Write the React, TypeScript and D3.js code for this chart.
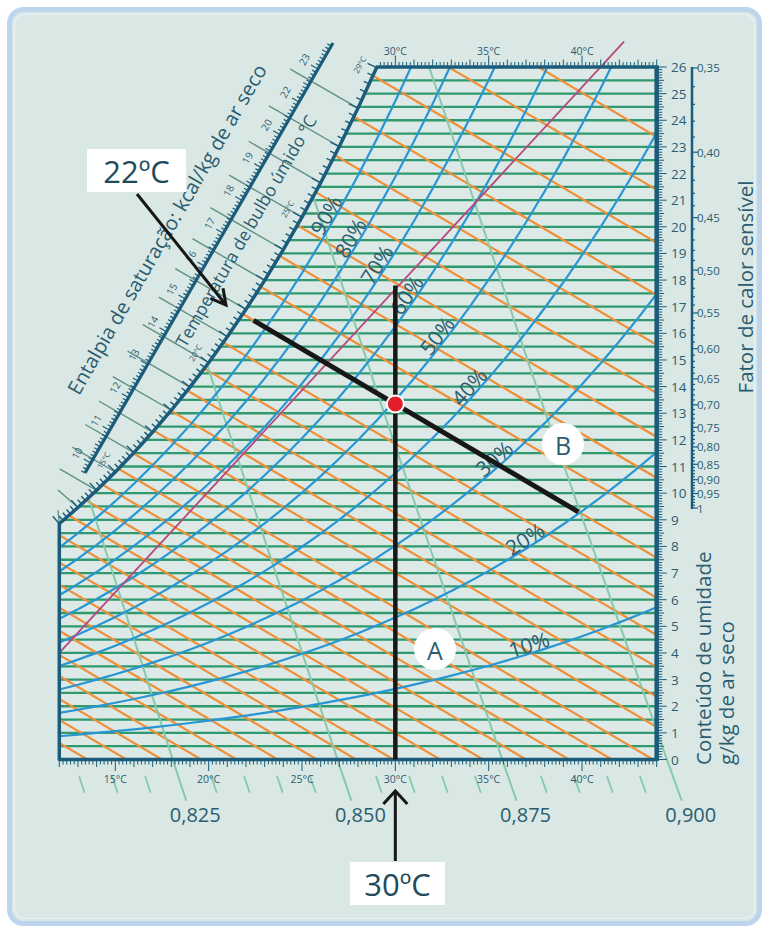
import React from "react";
import * as d3 from "d3";

// ---------------- data ----------------
const tempsC = [12, 13, 14, 15, 16, 17, 18, 19, 20, 21, 22, 23, 24, 25, 26, 27, 28, 29, 30, 31, 32, 33, 34, 35, 36, 37, 38, 39, 40, 41, 42, 43, 44];
const satPressureKPa = [1.4028, 1.4981, 1.599, 1.7058, 1.8188, 1.9384, 2.0647, 2.1983, 2.3392, 2.4882, 2.6453, 2.8111, 2.9858, 3.1699, 3.3639, 3.5681, 3.7831, 4.0092, 4.247, 4.4969, 4.7596, 5.0354, 5.3251, 5.629, 5.9479, 6.2823, 6.6328, 7.0002, 7.3849, 7.7878, 8.2096, 8.6508, 9.1124];
const relHumidity = [0.9, 0.8, 0.7, 0.6, 0.5, 0.4, 0.3, 0.2, 0.1];
const rhLabels = ["90%", "80%", "70%", "60%", "50%", "40%", "30%", "20%", "10%"];
const rhLabelTemps = [26.7, 28.0, 29.4, 31.0, 32.6, 34.3, 35.6, 37.2, 37.3];
const humidityTicks = [0, 1, 2, 3, 4, 5, 6, 7, 8, 9, 10, 11, 12, 13, 14, 15, 16, 17, 18, 19, 20, 21, 22, 23, 24, 25, 26];
const bottomTempTicks = [15, 20, 25, 30, 35, 40];
const topTempTicks = [30, 35, 40];
const specificVolumes = [0.825, 0.85, 0.875, 0.9];
const specificVolumeLabels = ["0,825", "0,850", "0,875", "0,900"];
const specificVolumeMinor = [0.81, 0.815, 0.82, 0.83, 0.835, 0.84, 0.845, 0.855, 0.86, 0.865, 0.87, 0.88, 0.885, 0.89, 0.895];
const wetBulbBottomT = [13.5, 15.6, 17.5, 19.6, 21.5, 23.7, 25.8, 27.9, 29.9, 32.4, 34.7, 37.0, 39.3, 41.6, 43.8];
const wetBulbRightW = [1.22, 2.35, 3.47, 4.67, 6.07, 7.57, 8.99, 10.57, 12.11, 13.76, 15.57, 17.44, 19.4, 21.39, 23.38];
const shfValues = [0.35, 0.4, 0.45, 0.5, 0.55, 0.6, 0.65, 0.7, 0.75, 0.8, 0.85, 0.9, 0.95, 1];
const shfLabels = ["0,35", "0,40", "0,45", "0,50", "0,55", "0,60", "0,65", "0,70", "0,75", "0,80", "0,85", "0,90", "0,95", "1"];
const enthalpyLabels = ["10", "11", "12", "13", "14", "15", "16", "17", "18", "19", "20", "22", "23"];
const wetBulbScaleTemps = [15, 20, 25, 28.9];
const wetBulbScaleLabels = ["15°C", "20°C", "25°C", "29°C"];
const wetBulbGuideTemps = [12, 13, 14, 15, 16, 17, 18, 19, 20, 21, 22, 23, 24, 25, 26, 27, 28];
const magentaLine = [[12, 4.0], [42.25, 26.95]];
const statePoint = [30, 13.35];
const wetBulb22Line = [[22.4, 16.49], [39.8, 9.3]];
const dryBulb30Line = [[30, 0], [30, 17.8]];
const enthalpyScaleEnds = [[13.38, 10.76], [26.66, 26.9]];

// ---------------- constants ----------------
const PRESSURE = 100; // kPa used for humidity curves
const P_ATM = 101.325;
const WB_SLOPE = 0.413; // g/kg per °C
const FONT = "'Open Sans', 'Noto Sans', sans-serif";
const C = {
  bg: "#d9e8e5",
  frame: "#bcd4ec",
  green: "#2f9a6d",
  orange: "#f08f36",
  blue: "#2896d3",
  vol: "#86c9ab",
  magenta: "#b8477f",
  border: "#1b5c7b",
  text: "#2b5c70",
  guide: "#5f9082",
  black: "#171717",
  red: "#e21f29",
};

export default function App() {
  const x = d3.scaleLinear().domain([12, 44]).range([59.3, 656.7]);
  const y = d3.scaleLinear().domain([0, 26]).range([759.5, 67]);
  const psAt = d3.scaleLinear().domain(tempsC).range(satPressureKPa);
  const tAtPs = d3.scaleLinear().domain(satPressureKPa).range(tempsC);
  const wFromPv = (pv: number) => (622 * pv) / (PRESSURE - pv);
  const wSat = (t: number) => wFromPv(psAt(t));
  const wRh = (rh: number, t: number) => wFromPv(rh * psAt(t));
  const tTop = tAtPs((26 * PRESSURE) / (622 + 26));
  const line = d3.line();
  const P = (t: number, w: number): [number, number] => [x(t), y(w)];

  // saturation polyline
  const satPts: [number, number][] = tempsC.filter((t) => t < tTop).map((t) => P(t, wSat(t)));
  satPts.push(P(tTop, 26));
  const regionPts: [number, number][] = [P(12, 0), P(44, 0), P(44, 26), ...satPts.slice().reverse()];
  const regionPath = line(regionPts) + "Z";

  // specific volume lines
  const tAtV = (v: number, w: number) => (v * P_ATM) / 0.287042 / (1 + (1.6078 * w) / 1000) - 273.15;
  const volLine = (v: number, w0: number, w1: number) =>
    line([P(tAtV(v, w0), w0), P(tAtV(v, (w0 + w1) / 2), (w0 + w1) / 2), P(tAtV(v, w1), w1)]);

  // wet bulb (orange) lines
  const orangeT0 = [...wetBulbBottomT, ...wetBulbRightW.map((w) => 44 + w / WB_SLOPE)];

  // green horizontal lines
  const greenW = d3.range(0.5, 26, 0.5);

  // enthalpy scale geometry
  const S0 = P(enthalpyScaleEnds[0][0], enthalpyScaleEnds[0][1]);
  const S1 = P(enthalpyScaleEnds[1][0], enthalpyScaleEnds[1][1]);
  const sLen = Math.hypot(S1[0] - S0[0], S1[1] - S0[1]);
  const u = [(S1[0] - S0[0]) / sLen, (S1[1] - S0[1]) / sLen];
  const nv = [u[1], -u[0]]; // up-left normal
  const angScale = (Math.atan2(u[1], u[0]) * 180) / Math.PI;
  const along = (s: number, n: number): [number, number] => [S0[0] + s * u[0] + n * nv[0], S0[1] + s * u[1] + n * nv[1]];
  const labelStep = 37.9;
  const sOfH = (i: number) => 13 + labelStep * i;

  // saturation normal
  const satNormal = (t: number) => {
    const a = P(t - 0.05, wSat(t - 0.05));
    const b = P(t + 0.05, wSat(t + 0.05));
    const dx = b[0] - a[0], dy = b[1] - a[1];
    const l = Math.hypot(dx, dy);
    return [dy / l, -dx / l];
  };

  // SHF scale (position follows latent/sensible ratio)
  const shfY = d3.scaleLinear().domain([0, 0.0526, 1.857]).range([508, 493.5, 68]);
  const shfPos = (s: number) => shfY((1 - s) / s);
  const shfX = 692;

  const tempTickArr = d3.range(0, 161).map((k) => 12 + k * 0.2);

  return (
    <svg width={769} height={932} style={{ position: "absolute", left: 0, top: 0 }} fontFamily={FONT}>
      <defs>
        <clipPath id="plot">
          <path d={regionPath} />
        </clipPath>
        <mask id="outside" maskUnits="userSpaceOnUse" x={0} y={0} width={769} height={932}>
          <rect width={769} height={932} fill="white" />
          <path d={regionPath} fill="black" />
        </mask>
      </defs>
      <rect x={0} y={0} width={769} height={932} fill="#ffffff" />
      <rect x={9.5} y={9.5} width={750} height={914} rx={14} fill={C.bg} stroke={C.frame} strokeWidth={5} />
      <rect x={14.5} y={14.5} width={740} height={904} rx={10} fill="none" stroke="#e8f0f8" strokeWidth={1.2} />

      {/* gridded interior */}
      <g clipPath="url(#plot)">
        <path d={regionPath} fill="#dce9e7" />
        {greenW.map((w, i) => (
          <line key={"g" + i} x1={x(12)} x2={x(44)} y1={y(w)} y2={y(w)} stroke={C.green} strokeWidth={2.3} />
        ))}
        {orangeT0.map((t0, i) => (
          <path key={"o" + i} d={line([P(t0 + 1 / WB_SLOPE, -1), P(t0 - 27 / WB_SLOPE, 27)]) || ""} stroke={C.orange} strokeWidth={2.2} fill="none" />
        ))}
        {specificVolumes.map((v, i) => (
          <path key={"v" + i} d={volLine(v, -0.5, 27) || ""} stroke={C.vol} strokeWidth={2} fill="none" />
        ))}
        {relHumidity.map((rh, i) => (
          <path key={"rh" + i} d={line(tempsC.map((t) => P(t, wRh(rh, t)))) || ""} stroke={C.blue} strokeWidth={2.2} fill="none" />
        ))}
      </g>

      {/* specific volume extensions below chart */}
      <g mask="url(#outside)">
        {specificVolumes.map((v, i) => (
          <path key={"ve" + i} d={volLine(v, -1.55, 1.5) || ""} stroke={C.vol} strokeWidth={2} fill="none" />
        ))}
      </g>
      {specificVolumeMinor.map((v, i) => (
        <path key={"vm" + i} d={volLine(v, -0.62, -1.25) || ""} stroke={C.vol} strokeWidth={1.8} fill="none" />
      ))}
      {specificVolumes.map((v, i) => (
        <text key={"vl" + i} x={x(tAtV(v, -1.55)) + 9} y={814} fontSize={20} fill={C.text} textAnchor="middle" dominantBaseline="central">
          {specificVolumeLabels[i]}
        </text>
      ))}

      {/* magenta line */}
      <path d={line(magentaLine.map((d) => P(d[0], d[1]))) || ""} stroke={C.magenta} strokeWidth={1.8} fill="none" />

      {/* RH labels */}
      {relHumidity.map((rh, i) => {
        const t = rhLabelTemps[i];
        const a = P(t, wRh(rh, t));
        const b = P(t + 0.1, wRh(rh, t + 0.1));
        const dx = b[0] - a[0], dy = b[1] - a[1];
        const l = Math.hypot(dx, dy);
        const n = [dy / l, -dx / l];
        const ang = (Math.atan2(dy, dx) * 180) / Math.PI;
        const cx = a[0] + n[0] * 9, cy = a[1] + n[1] * 9;
        return (
          <text key={"rl" + i} transform={`translate(${cx},${cy}) rotate(${ang})`} fontSize={21} fill={C.text} textAnchor="middle" dominantBaseline="central">
            {rhLabels[i]}
          </text>
        );
      })}

      {/* wet-bulb guide lines outside saturation */}
      {wetBulbGuideTemps.map((t, i) => {
        const p = P(t, wSat(t));
        const np = (p[0] - S0[0]) * nv[0] + (p[1] - S0[1]) * nv[1];
        const k = 24 - np;
        const q = [p[0] + k * nv[0], Math.max(p[1] + k * nv[1], 40)];
        return <line key={"gl" + i} x1={p[0]} y1={p[1]} x2={Math.max(q[0], 58)} y2={q[1]} stroke={C.guide} strokeWidth={1.4} />;
      })}

      {/* saturation ticks */}
      {d3.range(0, Math.floor((tTop - 12) / 0.2) + 1).map((k) => {
        const t = 12 + k * 0.2;
        const p = P(t, wSat(t));
        const n = satNormal(t);
        const len = k % 5 === 0 ? 10 : 6;
        return <line key={"st" + k} x1={p[0]} y1={p[1]} x2={p[0] + n[0] * len} y2={p[1] + n[1] * len} stroke={C.border} strokeWidth={1.4} />;
      })}
      {wetBulbScaleTemps.map((t, i) => {
        const p = P(t, wSat(t));
        const n = satNormal(t);
        return (
          <text key={"wl" + i} transform={`translate(${p[0] + n[0] * 17},${p[1] + n[1] * 17}) rotate(${angScale})`} fontSize={8} fill={C.text} textAnchor="middle" dominantBaseline="central">
            {wetBulbScaleLabels[i]}
          </text>
        );
      })}

      {/* enthalpy scale */}
      <line x1={S0[0]} y1={S0[1]} x2={S1[0]} y2={S1[1]} stroke={C.border} strokeWidth={3.2} />
      {d3.range(0, Math.floor(sLen / (labelStep / 10)) + 1).map((k) => {
        const s = k * (labelStep / 10);
        const h = Math.round((s - 13) / (labelStep / 10));
        const len = h % 10 === 0 ? 8 : h % 5 === 0 ? 6 : 4.5;
        const a = along(s, 0), b = along(s, len);
        return <line key={"et" + k} x1={a[0]} y1={a[1]} x2={b[0]} y2={b[1]} stroke={C.border} strokeWidth={1.2} />;
      })}
      {enthalpyLabels.map((lab, i) => {
        const c = along(sOfH(i), 17);
        return (
          <text key={"el" + i} transform={`translate(${c[0]},${c[1]}) rotate(${angScale})`} fontSize={10} fill={C.text} textAnchor="middle" dominantBaseline="central">
            {lab}
          </text>
        );
      })}
      {(() => {
        const c = along(252, 51);
        return (
          <text transform={`translate(${c[0]},${c[1]}) rotate(${angScale})`} fontSize={20} fill={C.text} textAnchor="middle" dominantBaseline="central">
            Entalpia de saturação: kcal/kg de ar seco
          </text>
        );
      })()}
      {(() => {
        const c = along(290, -18);
        return (
          <text transform={`translate(${c[0]},${c[1]}) rotate(${angScale})`} fontSize={17.5} fill={C.text} textAnchor="middle" dominantBaseline="central">
            Temperatura de bulbo úmido °C
          </text>
        );
      })()}

      {/* chart border */}
      <path d={regionPath} fill="none" stroke={C.border} strokeWidth={3.5} strokeLinejoin="round" />
      <line x1={x(44)} x2={x(44)} y1={y(0) + 1.5} y2={y(26) - 1.5} stroke={C.border} strokeWidth={4.5} />

      {/* bottom temperature ticks */}
      {tempTickArr.map((t, k) => {
        const len = k % 25 === 15 ? 10 : k % 5 === 0 ? 6 : 3.5;
        return <line key={"bt" + k} x1={x(t)} x2={x(t)} y1={y(0) + 1.5} y2={y(0) + 1.5 + len} stroke={C.border} strokeWidth={1} />;
      })}
      {bottomTempTicks.map((t) => (
        <text key={"btl" + t} x={x(t)} y={779} fontSize={10.5} fill={C.text} textAnchor="middle" dominantBaseline="central">
          {t}°C
        </text>
      ))}
      {tempTickArr.filter((t) => t >= tTop).map((t, k) => {
        const kk = Math.round((t - 12) / 0.2);
        const len = kk % 25 === 15 ? 10 : kk % 5 === 0 ? 6 : 3.5;
        return <line key={"tt" + k} x1={x(t)} x2={x(t)} y1={y(26) - 1.5} y2={y(26) - 1.5 - len} stroke={C.border} strokeWidth={1} />;
      })}
      {topTempTicks.map((t) => (
        <text key={"ttl" + t} x={x(t)} y={51} fontSize={10.5} fill={C.text} textAnchor="middle" dominantBaseline="central">
          {t}°C
        </text>
      ))}

      {/* humidity axis */}
      {d3.range(0, 261).map((k) => {
        const w = k / 10;
        const len = k % 10 === 0 ? 8 : k % 5 === 0 ? 5.5 : 3.5;
        return <line key={"ht" + k} x1={x(44) + 2} x2={x(44) + 2 + len} y1={y(w)} y2={y(w)} stroke={C.border} strokeWidth={1} />;
      })}
      {humidityTicks.map((w) => (
        <text key={"hl" + w} x={671} y={y(w)} fontSize={13.5} fill={C.text} textAnchor="start" dominantBaseline="central">
          {w}
        </text>
      ))}

      {/* SHF scale */}
      <line x1={shfX} x2={shfX} y1={shfPos(0.35) - 1} y2={shfPos(1) + 1} stroke={C.border} strokeWidth={2.5} />
      {d3.range(35, 101).map((k) => {
        const s = k / 100;
        const major = k % 5 === 0;
        return <line key={"sf" + k} x1={shfX} x2={shfX + (major ? 6 : 3)} y1={shfPos(s)} y2={shfPos(s)} stroke={C.border} strokeWidth={1.2} />;
      })}
      {shfValues.map((s, i) => (
        <text key={"sl" + i} x={shfX + 5} y={shfPos(s)} fontSize={11.5} fill={C.text} textAnchor="start" dominantBaseline="central">
          {shfLabels[i]}
        </text>
      ))}

      {/* axis titles */}
      <text transform="translate(745,287) rotate(-90)" fontSize={20.5} fill={C.text} textAnchor="middle" dominantBaseline="central">
        Fator de calor sensível
      </text>
      <text transform="translate(703,765) rotate(-90)" fontSize={20.5} fill={C.text} textAnchor="start" dominantBaseline="central">
        Conteúdo de umidade
      </text>
      <text transform="translate(726,765) rotate(-90)" fontSize={20.5} fill={C.text} textAnchor="start" dominantBaseline="central">
        g/kg de ar seco
      </text>

      {/* process lines */}
      <path d={line(dryBulb30Line.map((d) => P(d[0], d[1]))) || ""} stroke={C.black} strokeWidth={4.5} fill="none" />
      <path d={line(wetBulb22Line.map((d) => P(d[0], d[1]))) || ""} stroke={C.black} strokeWidth={5} fill="none" />
      <circle cx={x(statePoint[0])} cy={y(statePoint[1])} r={8.5} fill={C.red} stroke="#ffffff" strokeWidth={2} />

      {/* A / B markers */}
      <circle cx={435} cy={649} r={21} fill="#ffffff" />
      <text x={435} y={650} fontSize={25} fill={C.text} textAnchor="middle" dominantBaseline="central">A</text>
      <circle cx={563} cy={444} r={21} fill="#ffffff" />
      <text x={563} y={445} fontSize={25} fill={C.text} textAnchor="middle" dominantBaseline="central">B</text>

      {/* 22ºC annotation */}
      <rect x={87} y={149} width={99} height={43} fill="#ffffff" />
      <text x={136.5} y={171} fontSize={31} fill="#1f4b5b" textAnchor="middle" dominantBaseline="central">22ºC</text>
      <line x1={137} y1={194} x2={226} y2={305} stroke={C.black} strokeWidth={3} />
      {(() => {
        const tip = [226, 305];
        const ang = Math.atan2(194 - 305, 137 - 226);
        const a1 = ang + 0.5, a2 = ang - 0.5;
        return (
          <path d={`M${tip[0] + 17 * Math.cos(a1)},${tip[1] + 17 * Math.sin(a1)} L${tip[0]},${tip[1]} L${tip[0] + 17 * Math.cos(a2)},${tip[1] + 17 * Math.sin(a2)}`} stroke={C.black} strokeWidth={3} fill="none" />
        );
      })()}

      {/* 30ºC annotation */}
      <rect x={350} y={862} width={95} height={43} fill="#ffffff" />
      <text x={397.5} y={884} fontSize={31} fill="#1f4b5b" textAnchor="middle" dominantBaseline="central">30ºC</text>
      <line x1={x(30)} y1={861} x2={x(30)} y2={791} stroke={C.black} strokeWidth={3} />
      <path d={`M${x(30) - 12},${804} L${x(30)},${791} L${x(30) + 12},${804}`} stroke={C.black} strokeWidth={3} fill="none" />
    </svg>
  );
}
